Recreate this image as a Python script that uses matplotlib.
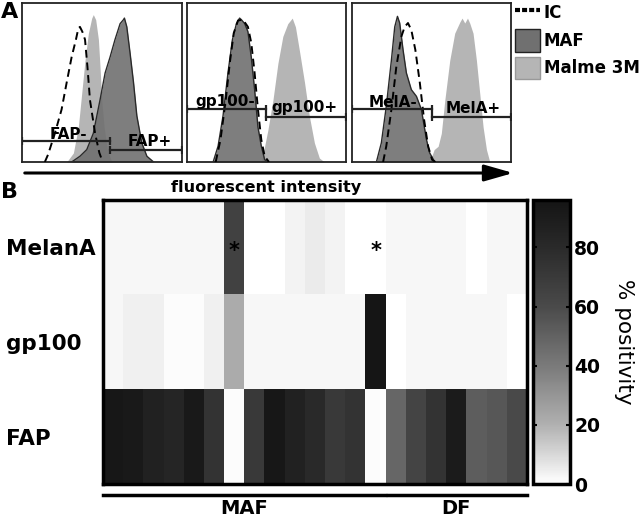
import matplotlib
matplotlib.use('Agg')
import matplotlib.pyplot as plt
import numpy as np
from matplotlib.colors import LinearSegmentedColormap
from matplotlib.lines import Line2D
from matplotlib.patches import Patch, FancyArrowPatch

plt.rcParams['font.family'] = ['DejaVu Sans']
plt.rcParams['font.weight'] = 'bold'

# --- panel A: histograms (x = channel 0-100, y = % of panel height) ---
fap_ic_x = [14, 16, 20.3, 24.5, 27.7, 30.8, 33.5, 35, 36, 37.5, 39.2, 40.7, 42.3, 45.5, 48.2, 50.3]
fap_ic_y = [0, 4.6, 18, 33, 50, 66, 77, 84, 85, 82, 77, 60, 39, 18, 5.7, 0]
fap_maf_x = [30.8, 36, 40.3, 44.4, 48.6, 51.8, 54.9, 58, 61.2, 63.3, 63.9, 65.4, 67.5, 69.6, 71.7, 74.8, 78, 82.2]
fap_maf_y = [0, 3.6, 7.8, 18, 39, 56, 66, 77, 87, 89.5, 90.5, 85, 68, 50, 29, 12, 3.6, 0]
fap_malme_x = [27.7, 31.9, 35, 37.1, 39.2, 41.3, 43.4, 44.4, 45.9, 47.6, 48.6, 49.7, 51.2, 53.2, 56]
fap_malme_y = [0, 5.7, 22, 43, 64, 81, 90.5, 92.7, 89.5, 77, 60, 39, 22, 7.8, 0]

gp_ic_x = [18.3, 21.3, 24.6, 27.1, 29.6, 32.3, 35.4, 38.5, 40.6, 42.7, 44.8, 46.9, 49, 51.7]
gp_ic_y = [0, 14, 39, 62, 81, 89, 89.5, 85, 75, 56, 33, 14, 3.6, 0]
gp_maf_x = [16.7, 19.8, 22.9, 26, 28.8, 31.3, 33.3, 34.4, 36.5, 38.5, 40.6, 42.7, 44.8, 46.9, 49, 51]
gp_maf_y = [0, 10, 29, 56, 77, 87, 90.5, 89.5, 87, 82, 66, 45.5, 22, 10, 1.5, 0]
gp_malme_x = [46.9, 49, 51, 54.2, 57.3, 60.4, 63.5, 66.3, 68.3, 70.8, 74, 77, 80.2, 83.3, 86.5]
gp_malme_y = [0, 10, 20, 39, 62, 79, 87, 90.5, 85, 70, 50, 29, 12, 2.5, 0]

mel_ic_x = [19.5, 21.5, 24.7, 27.8, 31, 33, 35.1, 37.2, 39.7, 42.5, 45.2, 47.7, 50.2, 52.3]
mel_ic_y = [0, 10, 33, 60, 79, 85, 87.4, 83, 70.6, 50, 26.6, 10, 1.5, 0]
mel_maf_x = [15.3, 18.4, 21.5, 24.7, 26.8, 28.5, 29.9, 32, 34.1, 37.2, 40.4, 43.5, 46.7, 48.7, 51.9]
mel_maf_y = [0, 12, 35, 64, 85, 91.6, 87.4, 70.6, 56, 45.5, 41.3, 33, 14, 5.7, 0]
mel_malme_x = [48.7, 51.5, 54, 56, 58.2, 61.3, 64.4, 67.6, 69, 70.7, 72.4, 73.8, 75.9, 78, 80.1, 82.2, 84.3, 86.4]
mel_malme_y = [0, 7.8, 9.9, 18, 39, 64, 81, 88, 90.5, 87.4, 90.5, 87.4, 81, 64, 43, 22, 7.8, 0]

gate_names = [('FAP-', 'FAP+'), ('gp100-', 'gp100+'), ('MelA-', 'MelA+')]
gate_split = [55, 49.6, 50.2]
gate_neg_y = [13, 33.3, 33.3]
gate_pos_y = [7.8, 28.3, 28.3]
label_neg_pos = [(28.7, 14.5), (24, 35.5), (25.7, 34.6)]
label_pos_pos = [(80, 9.9), (74, 31.5), (76, 30.8)]

# --- panel B: heatmap (% positivity) ---
markers = ['MelanA', 'gp100', 'FAP']
melana_pct = [2, 2, 2, 2, 2, 2, 65, 0, 0, 3, 5, 3, 0, 0, 2, 2, 2, 2, 0, 2, 2]
gp100_pct = [2, 4, 4, 1, 1, 4, 22, 2, 2, 2, 2, 2, 2, 95, 0, 2, 2, 2, 2, 2, 0]
fap_pct = [93, 92, 86, 83, 92, 74, 1, 70, 93, 86, 80, 70, 74, 1, 48, 63, 74, 90, 52, 54, 60]
asterisk_cols = [6, 13]
n_maf = 14
n_df = 7

MAF_C = '#707070'
MALME_C = '#b5b5b5'

fig = plt.figure(figsize=(6.42, 5.18), dpi=100)

panels = [
    (fap_ic_x, fap_ic_y, fap_maf_x, fap_maf_y, fap_malme_x, fap_malme_y),
    (gp_ic_x, gp_ic_y, gp_maf_x, gp_maf_y, gp_malme_x, gp_malme_y),
    (mel_ic_x, mel_ic_y, mel_maf_x, mel_maf_y, mel_malme_x, mel_malme_y),
]
lefts = [22.5, 186.5, 352]
for i, (icx, icy, mx, my, lx, ly) in enumerate(panels):
    ax = fig.add_axes([lefts[i] / 642, 1 - 162 / 518, 159.5 / 642, 159 / 518])
    ax.fill_between(lx, ly, color=MALME_C, lw=0, zorder=1)
    ax.fill_between(mx, my, color=MAF_C, alpha=0.9, lw=0, zorder=2)
    ax.plot(mx, my, color='#2a2a2a', lw=1, zorder=3)
    ax.plot(icx, icy, color='black', lw=1.4, ls=(0, (4, 2.5)), zorder=4)
    # gates
    s = gate_split[i]
    ax.plot([0, s], [gate_neg_y[i]] * 2, color='#222', lw=1.6, marker='|', ms=6, mew=1.6, zorder=5)
    ax.plot([s, 100], [gate_pos_y[i]] * 2, color='#222', lw=1.6, marker='|', ms=6, mew=1.6, zorder=5)
    neg, pos = gate_names[i]
    ax.text(*label_neg_pos[i], neg, ha='center', va='baseline', fontsize=11, zorder=6)
    ax.text(*label_pos_pos[i], pos, ha='center', va='baseline', fontsize=11, zorder=6)
    ax.set_xlim(0, 100)
    ax.set_ylim(0, 100)
    ax.set_xticks([])
    ax.set_yticks([])
    for sp in ax.spines.values():
        sp.set_linewidth(1.3)
        sp.set_color('#222')

handles = [Line2D([], [], color='black', lw=3, ls=(0, (1.2, 0.5))),
           Patch(facecolor=MAF_C, edgecolor='#222', lw=1),
           Patch(facecolor=MALME_C, edgecolor='#999', lw=1)]
fig.legend(handles, ['IC', 'MAF', 'Malme 3M'], loc='upper left', bbox_to_anchor=(513 / 642, 1.0),
           frameon=False, fontsize=12, handlelength=1.5, handleheight=1.7, handletextpad=0.25,
           labelspacing=0.3, borderaxespad=0, borderpad=0.1)

fig.text(1 / 642, 1 - 12 / 518, 'A', fontsize=16, va='center', ha='left')
fig.text(1 / 642, 1 - 192 / 518, 'B', fontsize=16, va='center', ha='left')

# arrow + axis title
fig.add_artist(FancyArrowPatch(
    (22 / 642, 1 - 173 / 518), (516 / 642, 1 - 173 / 518), transform=fig.transFigure,
    arrowstyle='-|>,head_length=0.7,head_width=0.2', mutation_scale=25, lw=2.2, color='black'))
fig.text(266 / 642, 1 - 187 / 518, 'fluorescent intensity', fontsize=11.6, ha='center', va='center')

# heatmap
cmap = LinearSegmentedColormap.from_list(
    'pos', [(0, '#ffffff'), (20 / 96, '#b0b0b0'), (40 / 96, '#7a7a7a'),
            (60 / 96, '#4a4a4a'), (80 / 96, '#2a2a2a'), (1, '#141414')])
data = np.array([melana_pct, gp100_pct, fap_pct])
axh = fig.add_axes([103 / 642, 1 - 484 / 518, 424 / 642, 284 / 518])
im = axh.imshow(data, cmap=cmap, vmin=0, vmax=96, aspect='auto', interpolation='nearest')
for c in asterisk_cols:
    axh.text(c, 0.04, '*', ha='center', va='center', fontsize=15, color='black')
axh.set_xticks([])
axh.set_yticks(range(len(markers)))
axh.set_yticklabels(markers, ha='left', fontsize=15.5)
axh.tick_params(axis='y', length=0, pad=70)
for sp in axh.spines.values():
    sp.set_linewidth(2.5)

cax = fig.add_axes([533 / 642, 1 - 484 / 518, 37 / 642, 284 / 518])
cb = fig.colorbar(im, cax=cax, ticks=[0, 20, 40, 60, 80])
cb.outline.set_linewidth(2.5)
cax.tick_params(labelsize=13.5, direction='in', length=3, width=1.5, left=True, right=True, pad=3)
cb.set_label('% positivity', rotation=270, fontsize=15.5, labelpad=24)

# group underlines
tr = axh.get_xaxis_transform()
axh.plot([-0.5, n_maf - 0.55], [-0.04, -0.04], transform=tr, color='black', lw=2.5, clip_on=False)
axh.plot([n_maf - 0.4, n_maf + n_df - 0.5], [-0.04, -0.04], transform=tr, color='black', lw=2.5, clip_on=False)
axh.text((n_maf - 1) / 2, -0.054, 'MAF', transform=tr, ha='center', va='top', fontsize=14)
axh.text(n_maf + (n_df - 1) / 2, -0.054, 'DF', transform=tr, ha='center', va='top', fontsize=14)

fig.savefig('out.png', dpi=100)
